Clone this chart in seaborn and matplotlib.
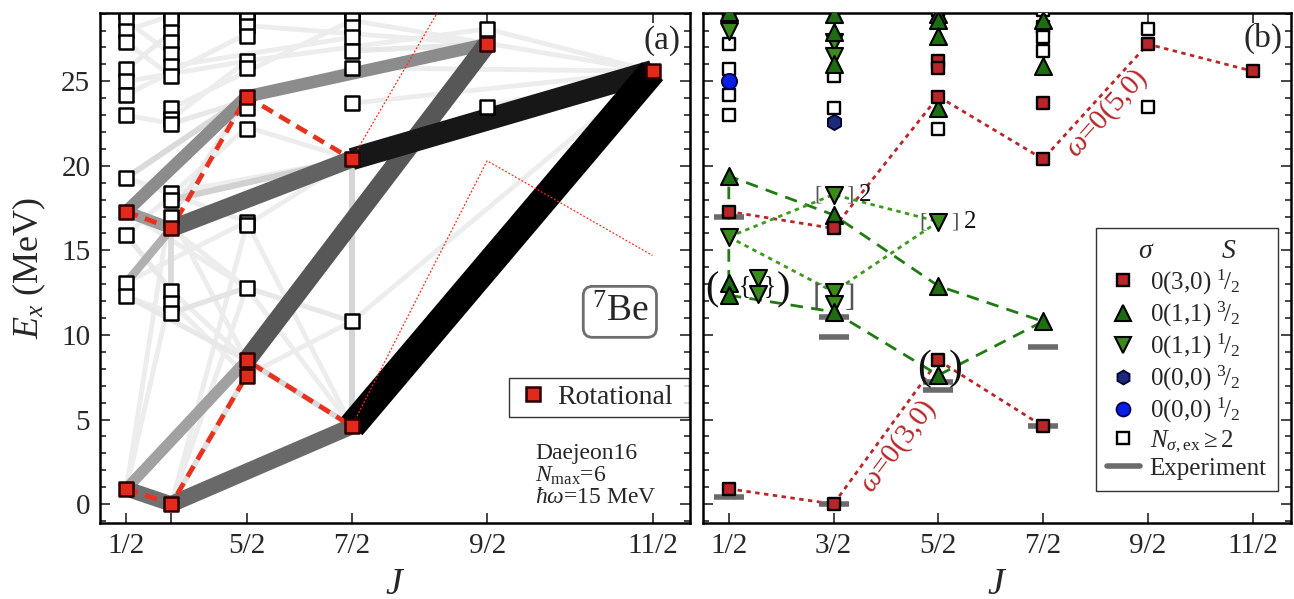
import numpy as np
import pandas as pd
import matplotlib.pyplot as plt
import seaborn as sns
from matplotlib.lines import Line2D
from matplotlib.ticker import MultipleLocator

sns.set_style("ticks")
plt.rcParams["font.family"] = ["Liberation Serif", "DejaVu Serif"]
plt.rcParams["mathtext.fontset"] = "custom"
plt.rcParams["mathtext.rm"] = "Liberation Serif"
plt.rcParams["mathtext.it"] = "Liberation Serif:italic"
plt.rcParams["mathtext.bf"] = "Liberation Serif:bold"

J_TICKS = [0.5, 1.5, 2.5, 3.5, 4.5, 5.5]
J_LABELS_A = ["1/2", "", "5/2", "7/2", "9/2", "11/2"]
J_LABELS_B = ["1/2", "3/2", "5/2", "7/2", "9/2", "11/2"]

# ---- panel (a): calculated states
a_open_J = [0.5] * 12 + [1.5] * 17 + [2.5] * 12 + [3.5] * 9 + [4.5] * 2
a_open_E = [29.1, 28.6, 28.0, 27.3, 25.7, 25.0, 24.2, 23.0, 19.3, 15.9, 13.1, 12.3,
            29.2, 28.9, 28.6, 27.9, 27.3, 26.6, 25.9, 25.3, 23.4, 22.8, 22.5, 18.4, 18.0, 17.0, 12.6, 11.9, 11.3,
            29.2, 28.9, 28.6, 28.3, 27.7, 26.2, 25.8, 23.4, 22.2, 16.7, 16.5, 12.8,
            29.2, 28.9, 28.6, 28.2, 27.6, 26.8, 25.8, 23.7, 10.8,
            28.1, 23.5]
a_rot_J = [0.5, 0.5, 1.5, 1.5, 2.5, 2.5, 2.5, 3.5, 3.5, 4.5, 5.5]
a_rot_E = [0.9, 17.3, 0.0, 16.3, 7.6, 8.5, 24.1, 4.6, 20.4, 27.2, 25.6]

# transitions in panel (a): J1, E1, J2, E2, relative strength
a_link_J1 = [0.5, 0.5, 0.5, 0.5, 0.5, 0.5, 0.5, 0.5, 0.5, 0.5, 0.5, 0.5, 0.5, 0.5,
             1.5, 1.5, 1.5, 1.5, 1.5, 1.5, 1.5, 1.5, 1.5, 1.5,
             2.5, 2.5, 2.5, 2.5, 2.5, 2.5, 2.5,
             3.5, 3.5, 3.5, 3.5, 3.5, 3.5, 4.5, 4.5,
             0.5, 0.5, 1.5, 2.5, 1.5, 0.5, 1.5, 3.5, 2.5, 3.5, 1.5, 2.5, 3.5,
             0.5, 0.5, 0.5, 1.5, 0.5, 0.5, 1.5, 2.5, 3.5, 1.5, 0.5, 1.5]
a_link_E1 = [28.6, 27.3, 25.0, 23.0, 19.3, 15.9, 13.1, 12.3, 17.3, 0.9, 0.9, 28.0, 24.2, 19.3,
             0.0, 0.0, 11.9, 12.6, 17.0, 16.3, 22.8, 25.9, 23.4, 18.4,
             16.7, 12.8, 22.3, 26.2, 7.6, 28.3, 16.5,
             23.7, 26.8, 25.8, 28.6, 10.8, 10.8, 23.5, 28.1,
             0.9, 17.3, 0.0, 8.5, 16.3, 0.9, 0.0, 4.6, 24.1, 20.4, 18.0, 8.5, 4.6,
             13.1, 19.3, 17.3, 16.3, 25.7, 15.9, 11.3, 12.8, 26.8, 17.0, 12.3, 22.5]
a_link_J2 = [1.5, 1.5, 2.5, 1.5, 1.5, 2.5, 2.5, 1.5, 2.5, 1.5, 1.5, 1.5, 2.5, 2.5,
             2.5, 2.5, 2.5, 2.5, 2.5, 2.5, 2.5, 3.5, 3.5, 3.5,
             3.5, 3.5, 3.5, 4.5, 3.5, 4.5, 3.5,
             5.5, 4.5, 5.5, 5.5, 5.5, 3.5, 5.5, 5.5,
             1.5, 2.5, 3.5, 4.5, 3.5, 2.5, 2.5, 5.5, 4.5, 5.5, 3.5, 3.5, 3.5,
             1.5, 2.5, 1.5, 1.5, 1.5, 1.5, 2.5, 3.5, 4.5, 2.5, 2.5, 3.5]
a_link_E2 = [26.6, 25.3, 26.2, 22.5, 18.4, 22.3, 16.7, 11.3, 12.8, 12.6, 18.0, 28.9, 27.8, 16.7,
             16.5, 12.8, 7.6, 8.5, 8.5, 12.8, 26.2, 27.6, 28.6, 20.4,
             4.6, 4.6, 20.4, 28.1, 10.8, 27.2, 20.4,
             25.6, 27.2, 25.6, 25.6, 25.6, 20.4, 25.6, 25.6,
             0.0, 24.1, 4.6, 27.2, 20.4, 8.5, 7.6, 25.6, 27.2, 25.6, 20.4, 4.6, 20.4,
             16.3, 24.1, 16.3, 11.3, 27.9, 12.6, 12.8, 10.8, 27.2, 24.1, 8.5, 25.8]
a_link_S = [0.05] * 39 + [0.58, 0.45, 0.6, 0.65, 0.62, 0.38, 0.12, 1.0, 0.45, 0.9, 0.2, 0.15, 0.18,
                          0.3, 0.15, 0.4, 0.15, 0.06, 0.08, 0.1, 0.08, 0.08, 0.08, 0.08, 0.08]

# rotational bands (a)
a_band_low_J = [0.5, 1.5, 2.5, 2.5, 3.5]
a_band_low_E = [0.9, 0.0, 7.6, 8.5, 4.6]
a_band_high_J = [0.5, 1.5, 2.5, 3.5]
a_band_high_E = [17.3, 16.3, 24.1, 20.4]
a_fit1_J = [3.5, 4.5, 5.5]
a_fit1_E = [4.6, 20.3, 14.7]
a_fit2_J = [3.5, 4.5]
a_fit2_E = [20.4, 34.1]

# ---- panel (b): states by leading SU(3) irrep
b_rot_J = [0.5, 0.5, 1.5, 1.5, 2.5, 2.5, 2.5, 2.5, 3.5, 3.5, 3.5, 4.5, 5.5]
b_rot_E = [17.3, 0.9, 16.3, 0.0, 26.2, 25.8, 24.1, 8.5, 23.7, 20.4, 4.6, 27.2, 25.6]
b_up_J = [0.5, 0.5, 0.5, 0.5, 1.5, 1.5, 1.5, 1.5, 1.5, 2.5, 2.5, 2.5, 2.5, 2.5, 2.5, 3.5, 3.5, 3.5]
b_up_E = [29.1, 19.4, 13.1, 12.35, 29.0, 27.9, 26.0, 17.1, 11.37, 29.0, 28.6, 27.7, 23.4, 12.9, 7.62,
          28.6, 25.9, 10.8]
b_down_J = [0.5, 0.5, 1.5, 1.5, 1.5, 1.5, 1.5, 1.5, 2.5]
b_down_E = [28.0, 15.8, 28.9, 27.3, 26.5, 18.3, 12.55, 11.85, 16.7]
b_down_grp_J = [0.5, 0.5]
b_down_grp_E = [13.35, 12.45]
b_hex_J = [1.5]
b_hex_E = [22.6]
b_circ_J = [0.5]
b_circ_E = [25.0]
b_open_J = [0.5] * 6 + [1.5, 1.5, 2.5, 2.5] + [3.5] * 4 + [4.5, 4.5]
b_open_E = [29.2, 28.6, 27.2, 25.7, 24.2, 23.0, 25.3, 23.4, 29.2, 22.2, 29.2, 28.2, 27.6, 26.8, 28.1, 23.5]
exp_J = [0.5, 0.5, 1.5, 1.5, 1.5, 2.5, 2.5, 3.5, 3.5]
exp_E = [17.0, 0.43, 11.07, 9.9, 0.0, 7.23, 6.74, 9.3, 4.6]

b_red30_J = [0.5, 1.5, 2.5, 3.5]
b_red30_E = [0.9, 0.0, 8.5, 4.6]
b_red50_J = [0.5, 1.5, 2.5, 3.5, 4.5, 5.5]
b_red50_E = [17.3, 16.3, 24.1, 20.4, 27.2, 25.6]
b_gA_J = [0.5, 0.5, 1.5, 2.5, 3.5]
b_gA_E = [13.1, 19.4, 17.1, 12.9, 10.8]
b_gB_J = [0.5, 1.5, 2.5, 3.5]
b_gB_E = [12.35, 11.37, 7.62, 10.8]
b_gC_J = [0.5, 1.5, 2.5]
b_gC_E = [15.8, 18.3, 16.7]
b_gD_J = [0.5, 1.5, 2.5]
b_gD_E = [15.8, 12.55, 16.7]

# degeneracy brackets: text, J, E, size
br_txt = ["(", ")", "{", "}", "[", "]", "[", "]", "2", "[", "]", "2", "(", ")"]
br_J = [0.34, 1.025, 0.655, 0.895, 1.35, 1.66, 1.35, 1.66, 1.8, 2.35, 2.66, 2.8, 2.36, 2.665]
br_E = [12.65, 12.65, 12.9, 12.9, 12.15, 12.15, 18.3, 18.3, 18.3, 16.7, 16.7, 16.7, 8.0, 8.0]
br_size = [29, 29, 18, 18, 23, 23, 16, 16, 18, 16, 16, 18, 30, 30]


def jj(J):
    J = np.asarray(J, dtype=float)
    return J * (J + 1)


def style_axes(ax, xt, xl):
    ax.set_ylim(-1.12, 29.04)
    ax.yaxis.set_major_locator(MultipleLocator(5))
    ax.yaxis.set_minor_locator(MultipleLocator(1))
    ax.set_xticks(xt)
    ax.set_xticklabels(xl)
    ax.tick_params(which="both", direction="in", top=True, right=True, width=1.2, labelsize=21, pad=7)
    ax.tick_params(which="major", length=7)
    ax.tick_params(which="minor", length=4)
    for s in ax.spines.values():
        s.set_linewidth(1.8)
        s.set_color("black")
    ax.set_xlabel("$J$", fontsize=27, labelpad=6)


fig = plt.figure(figsize=(12.94, 5.99), dpi=100)
axa = fig.add_axes([0.0773, 0.1269, 0.4560, 0.8514])
axb = fig.add_axes([0.5433, 0.1269, 0.4544, 0.8514])

# ================= panel (a)
S = np.array(a_link_S)
knots = [0, 0.05, 0.2, 0.3, 0.38, 0.45, 0.58, 0.65, 0.9, 1.0]
grey = np.interp(S, knots, [0.97, 0.93, 0.82, 0.69, 0.63, 0.55, 0.44, 0.34, 0.09, 0.0])
width = np.interp(S, knots, [3.5, 3.5, 4.5, 6, 8, 9, 11, 13.5, 16, 20])
order = np.argsort(S)
for i in order:
    axa.plot(jj([a_link_J1[i], a_link_J2[i]]), [a_link_E1[i], a_link_E2[i]],
             color=str(grey[i]), lw=width[i], solid_capstyle="butt", zorder=1 + S[i])

axa.plot(jj(a_fit1_J), a_fit1_E, color="#ff2a1a", lw=0.9, ls=(0, (1.5, 1.5)), zorder=3)
axa.plot(jj(a_fit2_J), a_fit2_E, color="#ff2a1a", lw=0.9, ls=(0, (1.5, 1.5)), zorder=3)
for bj, be in [(a_band_low_J, a_band_low_E), (a_band_high_J, a_band_high_E)]:
    axa.plot(jj(bj), be, color="#e8321e", lw=3.4, ls=(0, (2.6, 1.6)), zorder=4)

sns.scatterplot(x=jj(a_open_J), y=a_open_E, marker="s", s=95, color="white",
                edgecolor="black", linewidth=1.8, ax=axa, zorder=5)
sns.scatterplot(x=jj(a_rot_J), y=a_rot_E, marker="s", s=95, color="#e3281c",
                edgecolor="#2a0000", linewidth=1.8, ax=axa, zorder=6)

axa.set_xlim(-1.0, 38.25)
style_axes(axa, jj(J_TICKS), J_LABELS_A)
axa.set_ylabel("$E_x$ (MeV)", fontsize=26)
axa.yaxis.set_label_coords(-0.088, 0.5)

axa.text(0.952, 0.945, "(a)", transform=axa.transAxes, fontsize=24, ha="center", va="center")
axa.text(0.881, 0.414, "$^{7}$Be", transform=axa.transAxes, fontsize=27, ha="center", va="center",
         bbox=dict(boxstyle="round,pad=0.22,rounding_size=0.25", fc="white", ec="#6e6e6e", lw=2))
axa.text(0.738, 0.137, "Daejeon16", transform=axa.transAxes, fontsize=17, ha="left", va="center")
axa.text(0.738, 0.092, r"$N_{\rm max}$=6", transform=axa.transAxes, fontsize=17, ha="left", va="center")
axa.text(0.738, 0.050, r"$\hbar\omega$=15 MeV", transform=axa.transAxes, fontsize=17, ha="left", va="center")

rot_handle = Line2D([], [], ls="none", marker="s", ms=10, mfc="#e3281c", mec="#2a0000", mew=1.8)
leg_a = axa.legend([rot_handle], ["Rotational"], loc="lower left",
                   bbox_to_anchor=(0.693, 0.208, 0.305, 0.082), mode="expand", fontsize=20,
                   frameon=True, fancybox=False, borderpad=0.25, handletextpad=0.3,
                   handlelength=1.2, borderaxespad=0)
leg_a.get_frame().set_edgecolor("black")
leg_a.get_frame().set_linewidth(1.0)

# ================= panel (b)
for bj, be in [(b_red30_J, b_red30_E), (b_red50_J, b_red50_E)]:
    axb.plot(bj, be, color="#b8262a", lw=2.0, ls=(0, (1.6, 1.6)), zorder=2)
for bj, be in [(b_gA_J, b_gA_E), (b_gB_J, b_gB_E)]:
    axb.plot(bj, be, color="#207a12", lw=2.0, ls=(0, (4.5, 3.0)), zorder=2)
for bj, be in [(b_gC_J, b_gC_E), (b_gD_J, b_gD_E)]:
    axb.plot(bj, be, color="#3c9a1c", lw=2.0, ls=(0, (1.6, 1.6)), zorder=2)

axb.plot(exp_J, exp_E, ls="none", marker="_", ms=21, mew=4, color="#6b6b6b", zorder=3)

sns.scatterplot(x=b_open_J, y=b_open_E, marker="s", s=85, color="white",
                edgecolor="black", linewidth=1.7, ax=axb, zorder=4)
sns.scatterplot(x=b_circ_J, y=b_circ_E, marker="o", s=120, color="#0a1ee6",
                edgecolor="#000050", linewidth=1.3, ax=axb, zorder=5)
sns.scatterplot(x=b_hex_J, y=b_hex_E, marker="h", s=120, color="#1c2a78",
                edgecolor="#000030", linewidth=1.3, ax=axb, zorder=5)
sns.scatterplot(x=b_down_J, y=b_down_E, marker="v", s=150, color="#3a8a1c",
                edgecolor="black", linewidth=1.5, ax=axb, zorder=5)
sns.scatterplot(x=np.array(b_down_grp_J) + 0.28, y=b_down_grp_E, marker="v", s=150, color="#3a8a1c",
                edgecolor="black", linewidth=1.5, ax=axb, zorder=5)
sns.scatterplot(x=b_up_J, y=b_up_E, marker="^", s=150, color="#1d6e12",
                edgecolor="black", linewidth=1.5, ax=axb, zorder=6)
sns.scatterplot(x=b_rot_J, y=b_rot_E, marker="s", s=85, color="#b8262a",
                edgecolor="black", linewidth=1.7, ax=axb, zorder=7)

for t, bj, be, fs in zip(br_txt, br_J, br_E, br_size):
    col = "#555555" if t in "[]" else "#111111"
    axb.text(bj, be, t, fontsize=fs, ha="center", va="center", color=col, zorder=8)

axb.text(2.12, 3.4, r"$\omega$=0(3,0)", color="#b8262a", fontsize=21, rotation=53,
         ha="center", va="center", rotation_mode="anchor", zorder=8)
axb.text(4.11, 23.1, r"$\omega$=0(5,0)", color="#b8262a", fontsize=21, rotation=48,
         ha="center", va="center", rotation_mode="anchor", zorder=8)

axb.set_xlim(0.254, 5.867)
style_axes(axb, J_TICKS, J_LABELS_B)
axb.set_yticklabels([])
axb.text(0.952, 0.95, "(b)", transform=axb.transAxes, fontsize=24, ha="center", va="center")

mk = dict(ls="none", mec="black")
handles = [
    Line2D([], [], marker="s", ms=9, mfc="#b8262a", mew=1.7, **mk),
    Line2D([], [], marker="^", ms=11, mfc="#1d6e12", mew=1.5, **mk),
    Line2D([], [], marker="v", ms=11, mfc="#3a8a1c", mew=1.5, **mk),
    Line2D([], [], marker="h", ms=10, mfc="#1c2a78", mew=1.3, ls="none", mec="#000030"),
    Line2D([], [], marker="o", ms=10, mfc="#0a1ee6", mew=1.3, ls="none", mec="#000050"),
    Line2D([], [], marker="s", ms=9, mfc="white", mew=1.7, **mk),
    Line2D([], [], color="#6b6b6b", lw=4),
]
labels = ["0(3,0) $^{1}\\!/_{2}$", "0(1,1) $^{3}\\!/_{2}$", "0(1,1) $^{1}\\!/_{2}$",
          "0(0,0) $^{3}\\!/_{2}$", "0(0,0) $^{1}\\!/_{2}$",
          r"$N_{\sigma,\mathrm{ex}}$$\geq$2", "Experiment"]
leg_b = axb.legend(handles, labels, loc="upper left", bbox_to_anchor=(0.668, 0.578),
                   fontsize=18, title="$\\sigma$          $S$", title_fontsize=20,
                   frameon=True, fancybox=False, labelspacing=0.12, handletextpad=0.4,
                   handlelength=1.3, borderpad=0.45, borderaxespad=0)
leg_b.get_frame().set_edgecolor("black")
leg_b.get_frame().set_linewidth(1.0)

fig.savefig("out.png", dpi=100)
